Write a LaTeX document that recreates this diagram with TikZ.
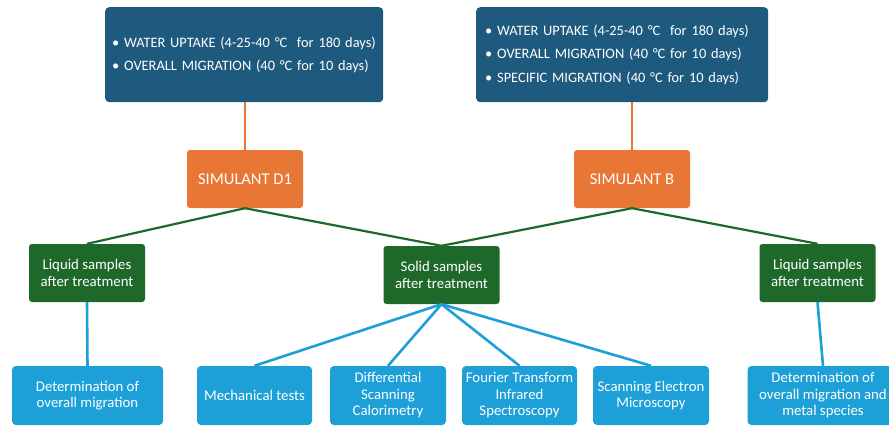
\documentclass[tikz,border=0pt]{standalone}
\usepackage{fontspec}
\setmainfont{Carlito}
\definecolor{topblue}{RGB}{30,90,125}
\definecolor{simorange}{RGB}{232,118,52}
\definecolor{sampgreen}{RGB}{30,105,42}
\definecolor{testblue}{RGB}{28,160,215}
\begin{document}
\begin{tikzpicture}[x=1pt,y=-1pt,
  every node/.style={text=white,font=\fontsize{15}{17}\selectfont},
  topbox/.style={fill=topblue,rounded corners=4pt,align=left,anchor=north west,inner xsep=9pt,inner ysep=0pt,minimum height=95pt,font=\fontsize{14.4}{23.5}\selectfont},
  simbox/.style={fill=simorange,rounded corners=3pt,minimum width=116pt,minimum height=58pt,align=center,font=\fontsize{16.5}{18}\selectfont},
  sampbox/.style={fill=sampgreen,rounded corners=3pt,minimum width=116pt,minimum height=58pt,align=center,font=\fontsize{14.8}{17.5}\selectfont},
  testbox/.style={fill=testblue,rounded corners=4pt,minimum height=59pt,align=center,font=\fontsize{14.8}{16.5}\selectfont},
  orangeline/.style={draw=simorange,line width=1.6pt},
  greenline/.style={draw=sampgreen,line width=2.2pt},
  blueline/.style={draw=testblue,line width=2.6pt}]
\useasboundingbox[fill=white] (0,0) rectangle (889,426);
% top boxes
\node[topbox,text width=264pt,inner xsep=7pt] (tl) at (105,7) {\mbox{• WATER UPTAKE (4-25-40 °C \ for 180 days)}\\\mbox{• OVERALL MIGRATION (40 °C for 10 days)}};
\node[topbox,text width=274pt] (tr) at (476,7) {\mbox{• WATER UPTAKE (4-25-40 °C \ for 180 days)}\\\mbox{• OVERALL MIGRATION (40 °C for 10 days)}\\\mbox{• SPECIFIC MIGRATION (40 °C for 10 days)}};
% simulants
\node[simbox] (d1) at (245,179) {SIMULANT D1};
\node[simbox] (sb) at (632,179) {SIMULANT B};
% samples
\node[sampbox] (liqL) at (87,273) {Liquid samples\\after treatment};
\node[sampbox] (solid) at (441.5,275) {Solid samples\\after treatment};
\node[sampbox] (liqR) at (817.5,273) {Liquid samples\\after treatment};
% tests
\node[testbox,minimum width=151pt] (detL) at (87.5,395.5) {Determination of\\overall migration};
\node[testbox,minimum width=115pt] (mech) at (254.5,395.5) {Mechanical tests};
\node[testbox,minimum width=116pt] (dsc) at (388,395.5) {Differential\\Scanning\\Calorimetry};
\node[testbox,minimum width=115pt] (ftir) at (519.5,395.5) {Fourier Transform\\Infrared\\Spectroscopy};
\node[testbox,minimum width=116pt] (sem) at (651,395.5) {Scanning Electron\\Microscopy};
\node[testbox,minimum width=151pt] (detR) at (823,395.5) {Determination of\\overall migration and\\metal species};
% connectors
\draw[orangeline] (d1.north) -- (d1.north |- tl.south);
\draw[orangeline] (sb.north) -- (sb.north |- tr.south);
\draw[greenline] (d1.south) -- (liqL.north);
\draw[greenline] (d1.south) -- (solid.north);
\draw[greenline] (sb.south) -- (solid.north);
\draw[greenline] (sb.south) -- (liqR.north);
\draw[blueline] (liqL.south) -- (detL.north);
\draw[blueline] (liqR.south) -- (detR.north);
\draw[blueline] (solid.south) -- (mech.north);
\draw[blueline] (solid.south) -- (dsc.north);
\draw[blueline] (solid.south) -- (ftir.north);
\draw[blueline] (solid.south) -- (sem.north);
\end{tikzpicture}
\end{document}
